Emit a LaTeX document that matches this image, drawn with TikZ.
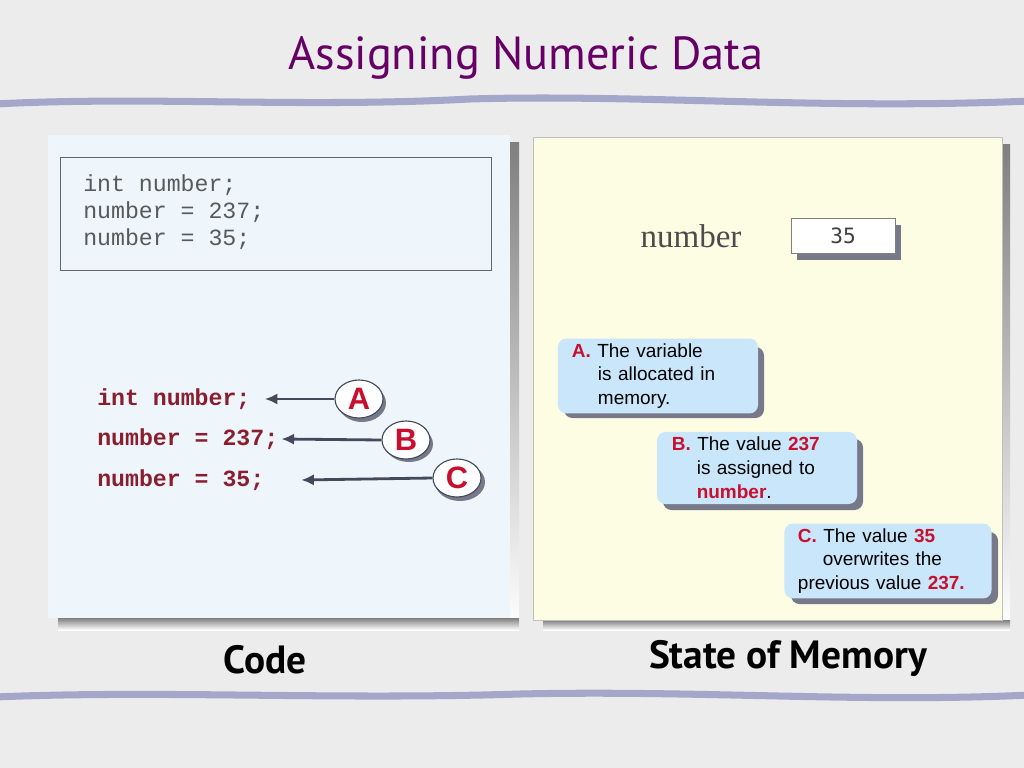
\documentclass[tikz,border=0pt]{standalone}
\usepackage{fontspec}
\setmainfont{Liberation Sans}
\setmonofont{Liberation Mono}
\newfontfamily\titlefont{PT Sans}
\newfontfamily\serifname{Liberation Serif}
\newfontfamily\valuefont{DejaVu Sans Mono}
\usetikzlibrary{arrows.meta,shapes.geometric}
\definecolor{paper}{HTML}{ECECEC}
\definecolor{wave}{HTML}{A4A7C9}
\definecolor{codebg}{HTML}{EEF6FC}
\definecolor{membg}{HTML}{FDFDE4}
\definecolor{shade}{HTML}{55576D}
\definecolor{titlec}{HTML}{660066}
\definecolor{codered}{HTML}{8A1E2E}
\definecolor{markred}{HTML}{C8102E}
\definecolor{calloutbg}{HTML}{C9E6FA}
\definecolor{arrowc}{HTML}{434A5C}
\tikzset{
  wavy/.style={wave,line width=5pt,line cap=round},
  codeline/.style={font=\ttfamily\fontsize{16.5}{20}\selectfont,anchor=west,inner sep=0pt},
  redline/.style={codeline,font=\ttfamily\bfseries\fontsize{16.5}{20}\selectfont,text=codered},
  marker/.style={ellipse,draw=arrowc,fill=white,line width=0.8pt,minimum width=1.2cm,minimum height=0.95cm,inner sep=0pt,
    font=\bfseries\fontsize{22}{22}\selectfont,text=markred},
  callout/.style={rounded corners=6pt,fill=calloutbg,minimum height=1.8cm,align=left,
    font=\fontsize{13.5}{17}\selectfont,inner xsep=0pt},
  pointer/.style={-{Latex[length=9pt,width=8pt]},arrowc,line width=2pt}
}
\newcommand{\rd}[1]{\textbf{\textcolor{markred}{#1}}}
\begin{document}
\begin{tikzpicture}[x=0.025cm,y=-0.025cm]
\fill[paper] (0,0) rectangle (1024,768);
\useasboundingbox (0,0) rectangle (1024,768);
% title and waves
\node[text=titlec,font=\titlefont\fontsize{33}{36}\selectfont] (title) at (526,58) {Assigning Numeric Data};
\draw[wavy] (-5,104) .. controls (150,96) and (300,108) .. (470,99) .. controls (640,94) and (820,110) .. (1030,101);
\draw[wavy] (-5,697) .. controls (160,690) and (330,700) .. (520,694) .. controls (700,690) and (860,703) .. (1030,695);
% panels, shadows first
\fill[shade] (510,143) rectangle (519,630);
\fill[shade] (58,618) rectangle (519,630);
\fill[codebg] (48,135) rectangle (510,618);
\fill[shade] (1002,145) rectangle (1010,630);
\fill[shade] (543,620) rectangle (1010,630);
\filldraw[fill=membg,draw=gray!50] (533,137) rectangle (1002,620);
% code box
\draw[fill=codebg,draw=gray!80!black] (60,157) rectangle (491,270);
\foreach \t [count=\i] in {int number;,number = 237;,number = 35;}
  \node[codeline,text=black!65] (top\i) at (83,158+27*\i) {\t};
% code lines with markers
\node[redline] (lineA) at (97,399) {int number;};
\node[redline] (lineB) at (97,439) {number = 237;};
\node[redline] (lineC) at (97,480) {number = 35;};
\fill[shade!80] (362,403) ellipse (24 and 19);
\fill[shade!80] (409,444) ellipse (24 and 18);
\fill[shade!80] (460,482) ellipse (25 and 19);
\node[marker] (A) at (359,399) {A};
\node[marker] (B) at (406,440) {B};
\node[marker] (C) at (457,478) {C};
\draw[pointer] (A.west) -- ([xshift=10pt]lineA.east);
\draw[pointer] (B.west) -- ([xshift=2pt]lineB.east);
\draw[pointer] (C.west) -- ([xshift=26pt]lineC.east);
% memory state
\node[text=black!70,font=\serifname\fontsize{23.5}{26}\selectfont] (varname) at (691,236) {number};
\fill[shade!80] (797,225) rectangle (901,260);
\node[draw=gray,fill=white,minimum width=2.6cm,minimum height=0.875cm,inner sep=0pt,
  font=\valuefont\fontsize{15}{16}\selectfont,text=black!75] (value) at (843,236) {35};
% callouts
\fill[shade!80,rounded corners=6pt] (564,347) rectangle (764,418);
\node[callout,text width=4.3cm,minimum width=5cm] (calloutA) at (658,376)
  {\rd{A.} The variable\\\hspace*{0.65cm}is allocated in\\\hspace*{0.65cm}memory.};
\fill[shade!80,rounded corners=6pt] (663,439) rectangle (863,510);
\node[callout,text width=4.25cm,minimum width=5cm] (calloutB) at (757,468)
  {\rd{B.} The value \rd{237}\\\hspace*{0.62cm}is assigned to\\\hspace*{0.62cm}\rd{number}.};
\fill[shade!80,rounded corners=6pt] (791,532) rectangle (998,604);
\node[callout,text width=4.5cm,minimum width=5.175cm] (calloutC) at (888,561)
  {\rd{C.} The value \rd{35}\\\hspace*{0.62cm}overwrites the\\previous value \rd{237.}};
% captions
\node[font=\titlefont\bfseries\fontsize{28}{30}\selectfont] (code) at (265,660) {Code};
\node[font=\titlefont\bfseries\fontsize{28}{30}\selectfont] (memory) at (788,658) {State of Memory};
\end{tikzpicture}
\end{document}
